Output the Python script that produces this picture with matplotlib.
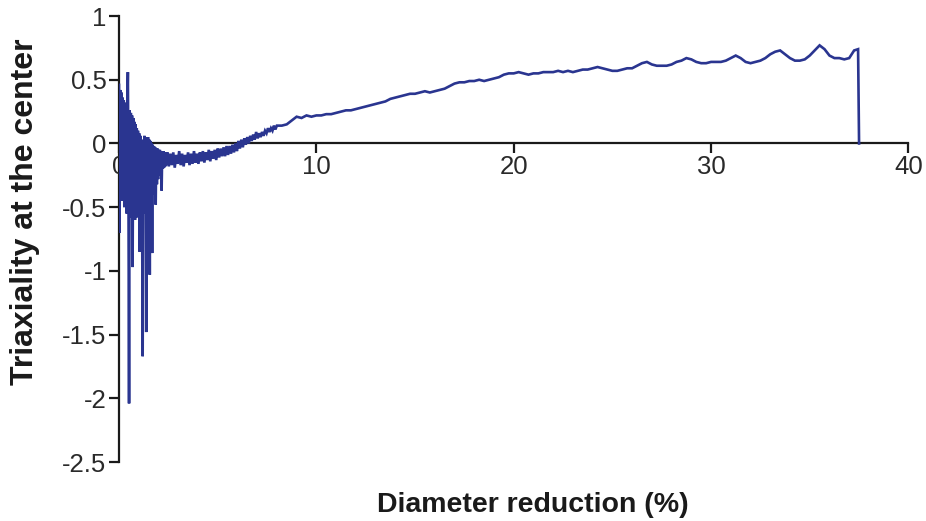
import numpy as np
import matplotlib
matplotlib.use("Agg")
import matplotlib.pyplot as plt

# Early oscillating part of the response (0 - 2.4 % reduction)
early_x = np.linspace(0.0, 2.4, 81)
early_y = [
    0.46, -0.70, 0.42, -0.40, 0.40, -0.45, 0.36, -0.30, 0.34, -0.50,
    0.32, -0.42, 0.30, -0.55, 0.28, 0.56, -0.35, -2.04, 0.26, -0.48,
    0.24, -0.58, 0.22, -0.97, 0.20, -0.52, 0.17, -0.60, 0.15, -0.45,
    0.12, -0.58, 0.10, -0.50, 0.08, -0.85, 0.06, -0.55, 0.03, -0.48,
    -1.67, 0.02, -0.55, 0.06, -0.45, 0.05, -1.48, 0.04, -0.50, 0.05,
    -0.42, 0.03, -1.03, 0.02, -0.45, 0.00, -0.86, -0.01, -0.40, -0.02,
    -0.35, -0.03, -0.48, -0.04, -0.32, -0.04, -0.28, -0.05, -0.25, -0.05,
    -0.22, -0.06, -0.37, -0.06, -0.20, -0.06, -0.19, -0.07, -0.18, -0.07,
    -0.17,
]

# Noisy band where triaxiality crosses zero (2.45 - 8 %)
band_x = np.linspace(2.45, 8.0, 75)
band_y = [
    -0.07, -0.18, -0.08, -0.17, -0.07, -0.19, -0.09, -0.16, -0.06, -0.17,
    -0.08, -0.18, -0.09, -0.15, -0.07, -0.17, -0.08, -0.16, -0.06, -0.15,
    -0.08, -0.16, -0.07, -0.14, -0.06, -0.15, -0.07, -0.13, -0.05, -0.14,
    -0.06, -0.12, -0.05, -0.13, -0.04, -0.11, -0.04, -0.10, -0.03, -0.10,
    -0.02, -0.09, -0.02, -0.08, -0.01, -0.07, 0.00, -0.06, 0.02, -0.04,
    0.03, -0.03, 0.04, -0.01, 0.05, 0.00, 0.06, 0.02, 0.07, 0.03,
    0.09, 0.04, 0.08, 0.05, 0.09, 0.06, 0.10, 0.08, 0.12, 0.09,
    0.12, 0.10, 0.14, 0.11, 0.14,
]

# Steady rise towards the end of the drawing pass (8.25 - 37.25 %)
rise_x = np.linspace(8.25, 37.25, 117)
rise_y = [
    0.14, 0.15, 0.18, 0.21, 0.20, 0.22, 0.21, 0.22, 0.22, 0.23,
    0.23, 0.24, 0.25, 0.26, 0.26, 0.27, 0.28, 0.29, 0.30, 0.31,
    0.32, 0.33, 0.35, 0.36, 0.37, 0.38, 0.39, 0.39, 0.40, 0.41,
    0.40, 0.41, 0.42, 0.43, 0.45, 0.47, 0.48, 0.48, 0.49, 0.49,
    0.50, 0.49, 0.50, 0.51, 0.52, 0.54, 0.55, 0.55, 0.56, 0.55,
    0.54, 0.55, 0.55, 0.56, 0.56, 0.56, 0.57, 0.56, 0.57, 0.56,
    0.57, 0.58, 0.58, 0.59, 0.60, 0.59, 0.58, 0.57, 0.57, 0.58,
    0.59, 0.59, 0.61, 0.63, 0.64, 0.62, 0.61, 0.61, 0.61, 0.62,
    0.64, 0.65, 0.67, 0.66, 0.64, 0.63, 0.63, 0.64, 0.64, 0.64,
    0.65, 0.67, 0.69, 0.67, 0.64, 0.63, 0.64, 0.65, 0.67, 0.70,
    0.72, 0.73, 0.70, 0.67, 0.65, 0.65, 0.66, 0.69, 0.73, 0.77,
    0.74, 0.69, 0.67, 0.67, 0.66, 0.67, 0.73,
]

# Last sample and the final drop when the simulation ends
end_x = [37.45, 37.5]
end_y = [0.74, 0.0]

x_ticks = [0, 10, 20, 30, 40]
y_ticks = [1, 0.5, 0, -0.5, -1, -1.5, -2, -2.5]

x = np.concatenate([early_x, band_x, rise_x, end_x])
y = np.concatenate([early_y, band_y, rise_y, end_y])

fig = plt.figure(figsize=(9.26, 5.21), dpi=100)
ax = fig.add_axes([0.1285, 0.1132, 0.8525, 0.856])

ax.plot(x, y, color="#2a3590", lw=1.9, solid_joinstyle="miter")

ax.set_xlim(0, 40)
ax.set_ylim(-2.5, 1)

ax.spines["top"].set_visible(False)
ax.spines["right"].set_visible(False)
ax.spines["bottom"].set_position(("data", 0))
for s in ("left", "bottom"):
    ax.spines[s].set_linewidth(1.6)
    ax.spines[s].set_color("#1a1a1a")
    ax.spines[s].set_zorder(1)

ax.set_xticks(x_ticks)
ax.set_yticks(y_ticks)
ax.set_xticklabels([f"{t:g}" for t in x_ticks])
ax.set_yticklabels([f"{t:g}" for t in y_ticks])
ax.tick_params(axis="both", direction="out", length=7, width=1.6, color="#1a1a1a",
               labelsize=18.5, labelcolor="#2a2a2a")
ax.tick_params(axis="y", pad=2)
ax.tick_params(axis="x", pad=1)
for lab in ax.get_xticklabels() + ax.get_yticklabels():
    lab.set_fontfamily("Liberation Sans")

fig.text(0.575, 0.031, "Diameter reduction (%)", ha="center", va="center",
         fontsize=20.5, fontweight="bold", family="Liberation Sans", color="#1a1a1a")
fig.text(0.027, 0.593, "Triaxiality at the center", ha="center", va="center",
         rotation=90, fontsize=23, fontweight="bold", family="Liberation Sans",
         color="#1a1a1a")

fig.savefig("out.png", dpi=100)
